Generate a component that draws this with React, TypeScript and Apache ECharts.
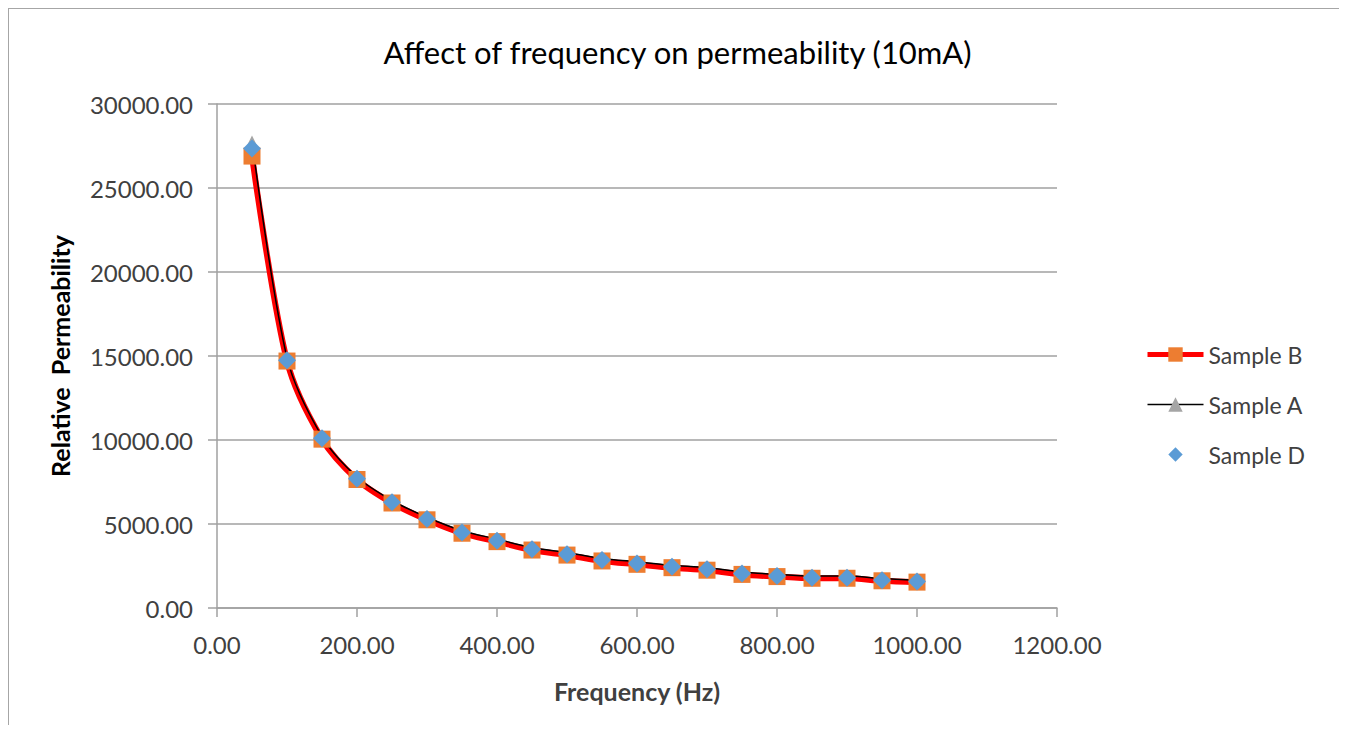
import React, { useEffect, useRef } from "react";
import * as echarts from "echarts";

const frequencies = [50, 100, 150, 200, 250, 300, 350, 400, 450, 500, 550, 600, 650, 700, 750, 800, 850, 900, 950, 1000];
const sampleB = [26900, 14700, 10050, 7650, 6250, 5250, 4450, 3950, 3450, 3150, 2800, 2600, 2400, 2250, 2000, 1870, 1770, 1770, 1620, 1540];
const sampleA = [27800, 14900, 10200, 7800, 6400, 5400, 4600, 4100, 3600, 3300, 2950, 2750, 2550, 2400, 2150, 2000, 1900, 1900, 1750, 1650];
const sampleD = [27350, 14750, 10100, 7700, 6300, 5300, 4500, 4000, 3500, 3200, 2850, 2650, 2450, 2300, 2050, 1900, 1800, 1800, 1650, 1570];
const seriesNames = ["Sample B", "Sample A", "Sample D"];

const FONT = "Lato, 'Open Sans', sans-serif";

export default function App() {
  const ref = useRef<HTMLDivElement>(null);
  useEffect(() => {
    if (!ref.current) return;
    const chart = echarts.init(ref.current, null, { renderer: "svg" });
    const pairs = (ys: number[]) => frequencies.map((f, i) => [f, ys[i]]);
    chart.setOption({
      animation: false,
      backgroundColor: "#ffffff",
      textStyle: { fontFamily: FONT },
      title: {
        text: "Affect of frequency on permeability (10mA)",
        left: "center",
        top: 22,
        textStyle: { fontFamily: FONT, fontSize: 31, fontWeight: "normal", color: "#000" },
      },
      legend: {
        orient: "vertical",
        left: 1136,
        top: 334,
        padding: 0,
        itemWidth: 56,
        itemHeight: 18,
        itemGap: 27,
        textStyle: { fontFamily: FONT, fontSize: 23, color: "#404040" },
        data: [
          { name: seriesNames[0], lineStyle: { color: "#ff0000", width: 5 } },
          { name: seriesNames[1], lineStyle: { color: "#000000", width: 1.5 } },
          { name: seriesNames[2] },
        ],
      },
      grid: { left: 208, top: 95, width: 840, height: 504, containLabel: false },
      xAxis: {
        type: "value",
        min: 0,
        max: 1200,
        interval: 200,
        name: "Frequency (Hz)",
        nameLocation: "middle",
        nameGap: 70,
        nameTextStyle: { fontFamily: FONT, fontSize: 25, fontWeight: "bold", color: "#404040" },
        axisLine: { show: true, lineStyle: { color: "#a0a0a0", width: 1.5 } },
        axisTick: { show: true, length: 9, lineStyle: { color: "#a0a0a0", width: 1.5 } },
        axisLabel: { fontFamily: FONT, fontSize: 24, color: "#404040", margin: 24, formatter: (v: number) => v.toFixed(2) },
        splitLine: { show: false },
      },
      yAxis: {
        type: "value",
        min: 0,
        max: 30000,
        interval: 5000,
        name: "Relative  Permeability",
        nameLocation: "middle",
        nameGap: 145,
        nameTextStyle: { fontFamily: FONT, fontSize: 25, fontWeight: "bold", color: "#000" },
        axisLine: { show: true, lineStyle: { color: "#a0a0a0", width: 1.5 } },
        axisTick: { show: true, length: 9, lineStyle: { color: "#a0a0a0", width: 1.5 } },
        axisLabel: { fontFamily: FONT, fontSize: 24, color: "#404040", margin: 24, formatter: (v: number) => v.toFixed(2) },
        splitLine: { show: true, lineStyle: { color: "#a0a0a0", width: 1.5 } },
      },
      series: [
        {
          name: "Sample B",
          type: "line",
          smooth: 0.3,
          data: pairs(sampleB),
          symbol: "rect",
          symbolSize: 17,
          itemStyle: { color: "#ed7d31" },
          lineStyle: { color: "#ff0000", width: 6 },
        },
        {
          name: "Sample A",
          type: "line",
          smooth: 0.3,
          data: pairs(sampleA),
          symbol: "triangle",
          symbolSize: 11,
          itemStyle: { color: "#a5a5a5" },
          lineStyle: { color: "#000000", width: 1.5 },
        },
        {
          name: "Sample D",
          type: "line",
          data: pairs(sampleD),
          symbol: "diamond",
          symbolSize: 18,
          itemStyle: { color: "#5b9bd5" },
          lineStyle: { width: 0, opacity: 0 },
        },
      ],
    });
    return () => chart.dispose();
  }, []);
  return (
    <div style={{ width: 1337, height: 716, border: "1px solid #a6a6a6", borderBottom: "none", background: "#fff" }}>
      <div ref={ref} style={{ width: 1337, height: 716 }} />
    </div>
  );
}
